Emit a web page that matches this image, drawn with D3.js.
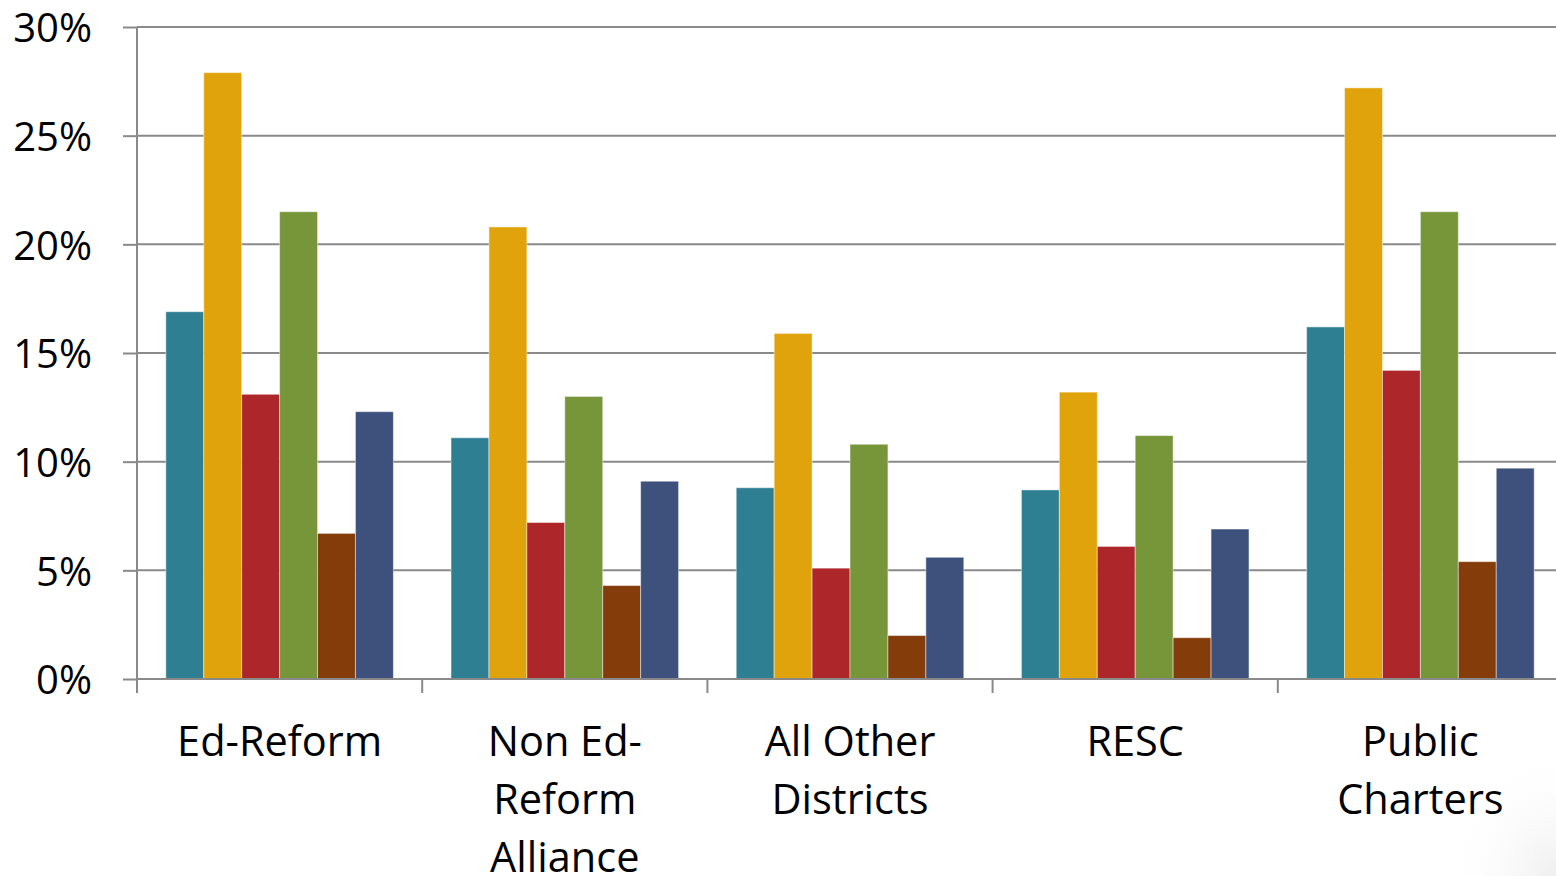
<!DOCTYPE html>
<html>
<head>
<meta charset="utf-8">
<script src="https://cdn.jsdelivr.net/npm/d3@7"></script>
<style>
  body { margin: 0; background: #fff; }
  svg { display: block; }
  .axis path { display: none; }
  .axis line { stroke: #8a8a8a; stroke-width: 2; }
  .axis text { font-family: "Open Sans", sans-serif; font-size: 40px; fill: #000; }
  .x.axis text { font-size: 41.5px; }
</style>
</head>
<body>
<script>
// categories and their wrapped labels
let categories = ['Ed-Reform', 'Non Ed-Reform Alliance', 'All Other Districts', 'RESC', 'Public Charters'];
let categoryLines = [['Ed-Reform'], ['Non Ed-', 'Reform', 'Alliance'], ['All Other', 'Districts'], ['RESC'], ['Public', 'Charters']];

// six series, one value per category (percent)
let series = ['Series 1', 'Series 2', 'Series 3', 'Series 4', 'Series 5', 'Series 6'];
let series1 = [16.9, 11.1, 8.8, 8.7, 16.2];
let series2 = [27.9, 20.8, 15.9, 13.2, 27.2];
let series3 = [13.1, 7.2, 5.1, 6.1, 14.2];
let series4 = [21.5, 13.0, 10.8, 11.2, 21.5];
let series5 = [6.7, 4.3, 2.0, 1.9, 5.4];
let series6 = [12.3, 9.1, 5.6, 6.9, 9.7];
let colors = ['#2f7f93', '#e0a30b', '#ad272a', '#77963a', '#843c0b', '#3e507c'];
let yTicks = [0, 5, 10, 15, 20, 25, 30];

let allValues = [series1, series2, series3, series4, series5, series6];
let data = categories.map(function (c, i) {
  return {
    category: c,
    values: series.map(function (s, j) {
      return { key: s, value: allValues[j][i] };
    })
  };
});

let margin = { left: 137, right: 0, top: 27, bottom: 197 };
let totalWidth = 1556;
let totalHeight = 876;
let height = totalHeight - margin.top - margin.bottom;
let width = 1426;

let svg = d3.select('body')
  .append('svg')
  .attr('width', totalWidth)
  .attr('height', totalHeight);

// faint shading in the bottom right corner
let defs = svg.append('defs');
let grad = defs.append('radialGradient')
  .attr('id', 'corner')
  .attr('cx', 1).attr('cy', 1).attr('r', 1);
grad.append('stop').attr('offset', '0%').attr('stop-color', '#efefef');
grad.append('stop').attr('offset', '100%').attr('stop-color', '#ffffff').attr('stop-opacity', 0);
svg.append('rect')
  .attr('x', totalWidth - 110).attr('y', totalHeight - 130)
  .attr('width', 110).attr('height', 130)
  .attr('fill', 'url(#corner)');

let chartGroup = svg.append('g')
  .attr('transform', 'translate(' + margin.left + ',' + margin.top + ')');

let x0 = d3.scaleBand()
  .domain(categories)
  .range([0, width])
  .padding(0);

let x1 = d3.scaleBand()
  .domain(series)
  .range([0, x0.bandwidth()])
  .paddingInner(0)
  .paddingOuter(0.76);

let y = d3.scaleLinear()
  .domain([0, 30])
  .range([height, 0]);

let color = d3.scaleOrdinal()
  .domain(series)
  .range(colors);

// gridlines
chartGroup.append('g')
  .selectAll('line')
  .data(yTicks)
  .enter()
  .append('line')
  .attr('x1', 0)
  .attr('x2', width)
  .attr('y1', function (d) { return y(d); })
  .attr('y2', function (d) { return y(d); })
  .attr('stroke', '#8a8a8a')
  .attr('stroke-width', 2);

// bars
let groups = chartGroup.append('g')
  .selectAll('g')
  .data(data)
  .enter()
  .append('g')
  .attr('transform', function (d) { return 'translate(' + x0(d.category) + ',0)'; });

groups.selectAll('rect')
  .data(function (d) { return d.values; })
  .enter()
  .append('rect')
  .attr('x', function (d) { return x1(d.key); })
  .attr('width', x1.bandwidth())
  .attr('y', function (d) { return y(d.value); })
  .attr('height', function (d) { return height - y(d.value); })
  .attr('fill', function (d) { return color(d.key); })
  .attr('stroke', 'rgba(255,255,255,0.45)')
  .attr('stroke-width', 1);

// y axis
let yAxis = d3.axisLeft(y)
  .tickValues(yTicks)
  .tickSize(14)
  .tickPadding(31)
  .tickFormat(function (d) { return d + '%'; });

chartGroup.append('g')
  .attr('class', 'y axis')
  .call(yAxis)
  .selectAll('text')
  .attr('dy', '0.37em');

chartGroup.append('line')
  .attr('x1', 0).attr('x2', 0)
  .attr('y1', 0).attr('y2', height + 14)
  .attr('stroke', '#8a8a8a')
  .attr('stroke-width', 2);

// x axis: baseline, boundary ticks, wrapped labels
let xAxisGroup = chartGroup.append('g')
  .attr('class', 'x axis')
  .attr('transform', 'translate(0,' + height + ')');

xAxisGroup.append('line')
  .attr('x1', 0).attr('x2', width)
  .attr('y1', 0).attr('y2', 0);

xAxisGroup.selectAll('.bound')
  .data(categories)
  .enter()
  .append('line')
  .attr('class', 'bound')
  .attr('x1', function (d) { return x0(d); })
  .attr('x2', function (d) { return x0(d); })
  .attr('y1', 0).attr('y2', 14);

xAxisGroup.selectAll('.label')
  .data(categories)
  .enter()
  .append('text')
  .attr('class', 'label')
  .attr('text-anchor', 'middle')
  .attr('transform', function (d) { return 'translate(' + (x0(d) + x0.bandwidth() / 2) + ',77)'; })
  .selectAll('tspan')
  .data(function (d, i) { return categoryLines[i]; })
  .enter()
  .append('tspan')
  .attr('x', 0)
  .attr('y', function (d, i) { return i * 58; })
  .text(function (d) { return d; });
</script>
</body>
</html>
